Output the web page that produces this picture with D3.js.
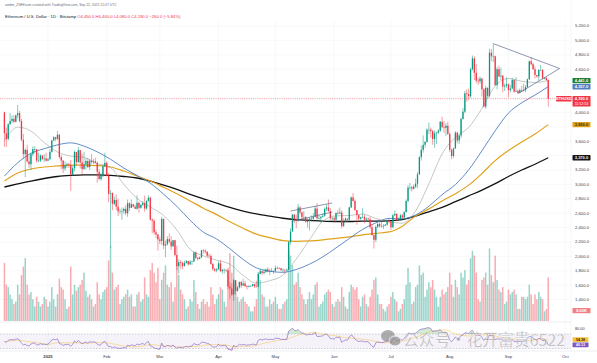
<!DOCTYPE html>
<html>
<head>
<meta charset="utf-8">
<script src="https://cdn.jsdelivr.net/npm/d3@7"></script>
<style>
  body { margin: 0; background: #fff; }
  svg { display: block; font-family: "Liberation Sans", Arial, sans-serif; }
</style>
</head>
<body>
<div id="chart"></div>
<script>
// ETH/USD 1D Bitstamp, one value per day from 9 Dec 2024 to 22 Sep 2025
const START = Date.UTC(2024, 11, 9);
const DAY = 864e5;
const firstOpen = 4000;

const closes = [
  3710,3630,3835,3880,3910,3870,3960,3990,3880,3620,3420,3480,3320,3280,3420,3490,3490,3330,3330,3400,3350,3360,3330,
  3350,3450,3610,3655,3630,3690,3380,3330,3220,3265,3280,3270,3135,3225,3450,3310,3475,3305,3215,3280,3325,3240,3330,3310,3320,3300,3175,3075,3115,3250,3300,
  3125,2870,2880,2730,2785,2690,2625,2630,2630,2660,2600,2740,2675,2725,2690,2660,2745,2675,2715,2740,2665,2770,2815,2510,2495,2335,2305,2235,
  2215,2520,2150,2170,2240,2205,2140,2225,2020,1865,1920,1910,1865,1910,1935,1890,1925,1930,2055,1980,1965,1985,2085,2080,2065,2010,2005,1895,1825,1805,1820,
  1905,1795,1815,1815,1805,1580,1555,1470,1670,1520,1570,1645,1595,1625,1585,1575,1585,1590,1615,1585,1580,1755,1795,1770,1785,1820,1790,1800,1800,1795,
  1840,1840,1835,1810,1815,1810,1815,2200,2345,2580,2515,2495,2680,2610,2545,2545,2480,2495,2525,2525,2550,2665,2530,2530,2550,2565,2660,2680,2630,2530,2530,
  2510,2605,2595,2610,2420,2480,2525,2510,2680,2820,2770,2645,2575,2525,2545,2550,2510,2525,2515,2405,2295,2230,2410,2450,2420,2415,2425,2440,2505,2485,
  2405,2570,2590,2510,2520,2570,2540,2615,2770,2955,2960,2940,2970,3010,3140,3380,3480,3550,3590,3760,3760,3740,3630,3710,3720,3745,3870,3795,3785,3815,3700,
  3480,3395,3500,3720,3610,3680,3910,4010,4265,4255,4225,4600,4750,4550,4440,4430,4470,4320,4080,4340,4230,4830,4780,4780,4380,4600,4500,4510,4360,4370,4390,
  4310,4330,4450,4290,4300,4270,4310,4300,4310,4350,4460,4710,4670,4600,4520,4500,4590,4590,4470,4480,4450,4190
];
const highs = [
  4010,3790,3850,3990,3960,3960,3970,4105,4020,3910,3700,3500,3550,3400,3440,3530,3530,3490,3440,3420,3410,3420,3440,
  3370,3490,3620,3670,3660,3740,3700,3410,3340,3320,3300,3300,3340,3260,3470,3450,3520,3480,3430,3450,3360,3370,3350,3420,3350,3370,3320,3210,3160,3280,3440,
  3320,3160,2920,2890,2830,2860,2800,2660,2680,2680,2710,2790,2750,2790,2730,2720,2850,2760,2730,2770,2845,2780,2850,2830,2530,2520,2370,2310,
  2270,2550,2530,2220,2280,2320,2280,2230,2230,2150,1960,1950,1930,1940,1950,1940,1950,1940,2070,2070,1990,2000,2090,2100,2100,2070,2040,2030,1910,1840,1840,
  1930,1950,1830,1830,1820,1810,1650,1620,1690,1670,1590,1650,1660,1690,1660,1600,1600,1600,1620,1610,1660,1780,1830,1800,1830,1830,1850,1830,1840,1800,
  1870,1860,1850,1840,1830,1820,1830,2210,2390,2590,2590,2580,2730,2700,2620,2630,2560,2530,2540,2570,2600,2700,2740,2580,2560,2600,2680,2720,2790,2670,2550,
  2550,2610,2650,2680,2640,2530,2540,2530,2690,2830,2880,2790,2620,2580,2550,2670,2580,2540,2540,2550,2450,2300,2430,2470,2490,2490,2450,2450,2510,2520,
  2490,2590,2640,2600,2540,2590,2590,2630,2790,2990,3020,2980,3000,3080,3170,3390,3540,3680,3600,3780,3860,3790,3760,3750,3730,3770,3880,3940,3880,3850,3870,
  3720,3500,3510,3740,3730,3690,3930,4060,4300,4320,4330,4620,4790,4780,4670,4480,4500,4480,4340,4370,4350,4885,4880,4955,4790,4630,4650,4620,4520,4400,4490,
  4400,4380,4480,4460,4490,4320,4330,4370,4400,4380,4470,4720,4770,4690,4640,4520,4600,4660,4600,4490,4490,4460
];
const lows = [
  3520,3520,3610,3830,3850,3850,3860,3920,3860,3600,3360,3100,3300,3230,3200,3390,3430,3300,3310,3310,3340,3310,3320,
  3320,3340,3440,3600,3600,3620,3360,3210,3160,3190,3230,3230,2910,3120,3180,3260,3300,3220,3140,3200,3210,3230,3200,3290,3280,3290,3020,3060,3050,3100,3260,
  3110,2750,2120,2640,2710,2640,2560,2590,2510,2590,2570,2550,2630,2670,2680,2660,2650,2610,2660,2700,2620,2650,2760,2500,2320,2300,2250,2080,
  2170,2160,2100,1990,2150,2180,2090,2130,2000,1810,1760,1830,1820,1860,1900,1870,1880,1880,1920,1960,1940,1960,1980,2040,2040,1990,1990,1880,1800,1780,1780,
  1820,1780,1760,1760,1780,1540,1410,1450,1385,1470,1510,1550,1560,1590,1580,1540,1570,1580,1580,1560,1570,1570,1760,1740,1750,1770,1780,1740,1790,1760,
  1790,1820,1820,1800,1780,1760,1790,1810,2160,2350,2460,2390,2480,2580,2500,2530,2470,2400,2360,2480,2480,2540,2510,2510,2470,2540,2550,2630,2620,2500,2490,
  2470,2480,2580,2590,2390,2410,2470,2480,2490,2670,2760,2630,2440,2490,2500,2530,2460,2480,2500,2380,2290,2110,2200,2390,2400,2400,2380,2420,2430,2460,
  2370,2390,2560,2490,2500,2500,2520,2520,2610,2750,2920,2900,2930,2950,2950,3130,3330,3440,3510,3580,3700,3650,3550,3510,3560,3700,3730,3780,3710,3670,3690,
  3450,3350,3370,3490,3570,3560,3640,3900,3990,4150,4170,4200,4580,4450,4410,4380,4400,4220,4070,4050,4200,4210,4710,4700,4370,4320,4490,4450,4280,4300,4340,
  4210,4280,4330,4270,4280,4260,4270,4290,4290,4280,4340,4450,4650,4590,4470,4480,4440,4580,4460,4460,4440,4080
];
// volume, thousand ETH
const volumes = [
  48,30,28,22,18,14,16,30,22,38,45,52,30,22,24,18,12,20,16,12,14,20,18,
  12,16,28,18,12,22,35,28,26,18,10,12,45,22,30,25,28,30,34,40,25,20,22,18,12,14,32,22,18,24,26,
  28,50,62,40,26,28,30,14,18,20,22,26,20,22,12,12,22,24,16,18,36,22,20,42,48,40,32,44,
  18,34,40,46,30,28,32,16,28,46,38,26,22,18,10,12,18,16,34,24,14,10,16,18,14,16,12,28,22,14,18,
  22,28,26,16,12,44,56,40,54,32,20,16,18,20,16,14,12,8,8,12,18,40,34,22,20,12,12,18,14,16,
  20,14,10,10,14,16,18,58,54,46,30,32,40,28,22,18,14,18,24,18,22,30,32,12,14,16,22,24,26,24,14,
  12,16,18,16,28,20,12,10,24,30,28,26,28,18,12,20,22,14,12,20,26,34,36,22,14,14,10,8,12,14,
  20,24,18,16,8,10,14,18,30,44,32,14,16,28,30,46,38,40,20,26,32,28,34,26,20,12,20,26,22,24,28,
  40,30,20,34,28,22,40,36,42,30,34,52,58,54,40,18,16,34,36,40,30,60,38,32,54,34,26,24,28,14,16,
  26,22,24,26,22,10,10,20,20,18,20,30,22,14,22,18,24,20,18,8,10,36
];

// moving averages, one reading per week starting 9 Dec 2024
const sma20 = [3605,3795,3741,3581,3450,3393,3376,3288,3233,3002,2806,2687,2569,2367,2099,2007,1947,1892,1736,1629,1663,1739,1963,2229,2487,2563,2568,2587,2527,2482,2461,2631,3009,3424,3656,3791,4056,4366,4471,4432,4416,4441];
const sma50 = [3116,3300,3431,3496,3549,3577,3532,3452,3349,3227,3123,3017,2864,2696,2502,2337,2242,2106,1957,1841,1793,1779,1818,1892,1993,2118,2248,2375,2466,2528,2522,2576,2697,2858,2998,3202,3467,3745,3991,4133,4241,4357];
const ma100 = [3047,3158,3214,3242,3256,3269,3269,3262,3242,3186,3117,3047,2960,2870,2770,2670,2580,2480,2390,2310,2260,2220,2210,2215,2230,2250,2270,2300,2320,2340,2420,2560,2660,2770,2870,2990,3150,3330,3470,3590,3700,3830];
const ma200 = [2964,3006,3047,3082,3110,3124,3131,3131,3124,3110,3089,3047,2990,2930,2860,2800,2740,2680,2630,2590,2560,2530,2510,2500,2490,2485,2485,2490,2490,2495,2510,2560,2620,2680,2760,2840,2920,3010,3110,3200,3280,3370];

const priceTicks = [1400,1600,1800,2000,2200,2400,2600,2800,3000,3200,3400,3600,3800,4000,4200,4400,4600,4800,5000,5200];
const monthTicks = ["2025-01-01","2025-02-01","2025-03-01","2025-04-01","2025-05-01","2025-06-01","2025-07-01","2025-08-01","2025-09-01","2025-10-01"];
const monthLabels = ["2025","Feb","Mar","Apr","May","Jun","Jul","Aug","Sep","Oct"];

// hand drawn trend lines: [date, price]
const trendLines = [
  [["2025-08-24", 4955], ["2025-09-28", 4610]],
  [["2025-09-06", 4260], ["2025-09-28", 4610]],
  [["2025-05-09", 2630], ["2025-05-31", 2742]],
  [["2025-05-10", 2491], ["2025-05-31", 2616]]
];
const volumeTag = 8.6;

const W = 597, H = 363, AXIS_X = 571;

const svg = d3.select("#chart").append("svg")
  .attr("width", W).attr("height", H);

const x = d3.scaleUtc()
  .domain([new Date("2025-01-01"), new Date("2025-10-01")])
  .range([48, 565.3]);
const y = d3.scaleLinear().domain([1400, 5200]).range([299.6, 26]);
const yVol = d3.scaleLinear().domain([0, 62]).range([321, 246]);
const yRsi = d3.scaleLinear().domain([30, 70]).range([348.5, 334]);

const bars = closes.map((c, i) => {
  const o = i ? closes[i - 1] : firstOpen;
  return {
    date: new Date(START + i * DAY), o, c,
    h: Math.max(highs[i], o, c), l: Math.min(lows[i], o, c), v: volumes[i]
  };
});
const weekDate = i => new Date(START + i * 7 * DAY);

const defs = svg.append("defs");
defs.append("clipPath").attr("id", "clipMain")
  .append("rect").attr("x", 0).attr("y", 20).attr("width", AXIS_X).attr("height", 301);
defs.append("clipPath").attr("id", "clipRsi")
  .append("rect").attr("x", 0).attr("y", 323).attr("width", AXIS_X).attr("height", 28);

// grid
const grid = svg.append("g");
grid.selectAll(".gh").data(priceTicks).enter().append("line")
  .attr("x1", 0).attr("x2", AXIS_X)
  .attr("y1", d => y(d)).attr("y2", d => y(d))
  .attr("stroke", "#f1f3f6").attr("stroke-width", 0.6);
grid.selectAll(".gv").data(monthTicks).enter().append("line")
  .attr("x1", d => x(new Date(d))).attr("x2", d => x(new Date(d)))
  .attr("y1", 20).attr("y2", 351)
  .attr("stroke", "#f1f3f6").attr("stroke-width", 0.6);

// RSI pane background
const rsiPane = svg.append("g");
rsiPane.append("rect").attr("x", 0).attr("width", AXIS_X)
  .attr("y", yRsi(70)).attr("height", yRsi(30) - yRsi(70))
  .attr("fill", "rgba(126,87,194,0.08)");
[70, 30].forEach(v => rsiPane.append("line")
  .attr("x1", 0).attr("x2", AXIS_X).attr("y1", yRsi(v)).attr("y2", yRsi(v))
  .attr("stroke", "#a0a0a8").attr("stroke-width", 0.5).attr("stroke-dasharray", "1.5,1.5"));

svg.append("line").attr("x1", 0).attr("x2", AXIS_X).attr("y1", 322).attr("y2", 322)
  .attr("stroke", "#e0e3eb").attr("stroke-width", 0.6);
svg.append("line").attr("x1", 0).attr("x2", W).attr("y1", 351).attr("y2", 351)
  .attr("stroke", "#e0e3eb").attr("stroke-width", 0.6);
svg.append("line").attr("x1", AXIS_X).attr("x2", AXIS_X).attr("y1", 0).attr("y2", 351)
  .attr("stroke", "#eef0f3").attr("stroke-width", 0.6);

const main = svg.append("g").attr("clip-path", "url(#clipMain)");

// volume
main.selectAll(".vol").data(bars).enter().append("rect")
  .attr("x", d => x(d.date) - 0.75).attr("width", 1.5)
  .attr("y", d => yVol(d.v)).attr("height", d => yVol(0) - yVol(d.v))
  .attr("fill", d => d.c >= d.o ? "rgba(8,153,129,0.42)" : "rgba(242,54,69,0.42)");

// moving averages
const maLine = d3.line().x((d, i) => x(weekDate(i))).y(d => y(d)).curve(d3.curveMonotoneX);
[
  [ma200, "#131313", 1.3],
  [ma100, "#e0a21b", 1.2],
  [sma50, "#4f7fc0", 0.9],
  [sma20, "#9aa59c", 0.6]
].forEach(([data, color, w]) => main.append("path").datum(data)
  .attr("d", maLine).attr("fill", "none").attr("stroke", color).attr("stroke-width", w));

// price line
const last = bars[bars.length - 1];
main.append("line").attr("x1", 0).attr("x2", AXIS_X)
  .attr("y1", y(last.c)).attr("y2", y(last.c))
  .attr("stroke", "#f23645").attr("stroke-width", 0.5).attr("stroke-dasharray", "1,1.2");

// candles
const up = "#089981", down = "#f23645";
const candles = main.selectAll(".candle").data(bars).enter().append("g");
candles.append("line")
  .attr("x1", d => x(d.date)).attr("x2", d => x(d.date))
  .attr("y1", d => y(d.h)).attr("y2", d => y(d.l))
  .attr("stroke", d => d.c >= d.o ? up : down).attr("stroke-width", 0.5);
candles.append("rect")
  .attr("x", d => x(d.date) - 0.65).attr("width", 1.3)
  .attr("y", d => y(Math.max(d.o, d.c)))
  .attr("height", d => Math.max(0.5, Math.abs(y(d.o) - y(d.c))))
  .attr("fill", d => d.c >= d.o ? up : down);

// trend lines
main.selectAll(".trend").data(trendLines).enter().append("line")
  .attr("x1", d => x(new Date(d[0][0]))).attr("y1", d => y(d[0][1]))
  .attr("x2", d => x(new Date(d[1][0]))).attr("y2", d => y(d[1][1]))
  .attr("stroke", "#5a6a8e").attr("stroke-width", 0.7);

// RSI (14) and its 14 period average
const rsi = [];
let avgUp = 75, avgDown = 55;
closes.forEach((c, i) => {
  const ch = c - (i ? closes[i - 1] : firstOpen);
  avgUp = (avgUp * 13 + Math.max(ch, 0)) / 14;
  avgDown = (avgDown * 13 + Math.max(-ch, 0)) / 14;
  rsi.push(100 - 100 / (1 + avgUp / avgDown));
});
const rsiMa = rsi.map((v, i) => d3.mean(rsi.slice(Math.max(0, i - 13), i + 1)));

const rsiG = svg.append("g").attr("clip-path", "url(#clipRsi)");
const rx = (d, i) => x(bars[i].date);
rsiG.append("path").datum(rsi)
  .attr("d", d3.area().x(rx).y0(yRsi(70)).y1(v => yRsi(Math.max(v, 70))))
  .attr("fill", "rgba(76,175,80,0.25)");
rsiG.append("path").datum(rsi)
  .attr("d", d3.area().x(rx).y0(yRsi(30)).y1(v => yRsi(Math.min(v, 30))))
  .attr("fill", "rgba(242,54,69,0.2)");
rsiG.append("path").datum(rsiMa)
  .attr("d", d3.line().x(rx).y(v => yRsi(v)))
  .attr("fill", "none").attr("stroke", "#f5c342").attr("stroke-width", 0.5);
rsiG.append("path").datum(rsi)
  .attr("d", d3.line().x(rx).y(v => yRsi(v)))
  .attr("fill", "none").attr("stroke", "#7e57c2").attr("stroke-width", 0.6);

// watermark
const wm = svg.append("g").attr("opacity", 0.7);
wm.append("ellipse").attr("cx", 388).attr("cy", 336).attr("rx", 7).attr("ry", 6).attr("fill", "#8c8c8c");
wm.append("ellipse").attr("cx", 395).attr("cy", 341).attr("rx", 6).attr("ry", 5).attr("fill", "#8c8c8c")
  .attr("stroke", "#fff").attr("stroke-width", 0.8);
wm.append("text").attr("x", 403).attr("y", 346)
  .attr("font-family", "'Noto Sans CJK SC', sans-serif").attr("font-size", 16.5)
  .attr("fill", "#8c8c8c").attr("stroke", "#fff").attr("stroke-width", 0.4)
  .attr("textLength", 162).attr("lengthAdjust", "spacingAndGlyphs")
  .text("公众号·花开富贵6522");

// price axis
const fmt = d3.format(",.1f");
const tagYs = [y(sma20[41]), y(sma50[41]), y(last.c), y(ma100[41]), y(ma200[41])];
svg.selectAll(".pt").data(priceTicks.filter(p => tagYs.every(t => Math.abs(y(p) - t) > 5))).enter()
  .append("text").attr("x", 575).attr("y", d => y(d)).attr("dy", "0.35em")
  .attr("font-size", 4.2).attr("fill", "#3a3e4a").text(d => fmt(d));

function tag(yv, text, fill, color, h) {
  h = h || 5.4;
  svg.append("rect").attr("x", 572.5).attr("y", yv - h / 2).attr("width", 18).attr("height", h)
    .attr("rx", 0.6).attr("fill", fill);
  svg.append("text").attr("x", 581.5).attr("y", yv).attr("dy", "0.35em").attr("text-anchor", "middle")
    .attr("font-size", 4).attr("font-weight", "bold").attr("fill", color).text(text);
}
tag(y(sma20[41]), fmt(sma20[41]), "#1e7e34", "#fff");
tag(y(sma50[41]), fmt(sma50[41]), "#4f7fc0", "#fff");
tag(y(ma100[41]), fmt(ma100[41]), "#e0a21b", "#3a2a00");
tag(y(ma200[41]), fmt(ma200[41]), "#131313", "#fff");

// last price tag with countdown
const yc = y(last.c);
svg.append("rect").attr("x", 572.5).attr("y", yc - 2.8).attr("width", 18).attr("height", 10.6)
  .attr("rx", 0.6).attr("fill", "#f23645");
svg.append("text").attr("x", 581.5).attr("y", yc).attr("dy", "0.35em").attr("text-anchor", "middle")
  .attr("font-size", 4).attr("font-weight", "bold").attr("fill", "#fff").text(fmt(last.c));
svg.append("text").attr("x", 581.5).attr("y", yc + 5).attr("dy", "0.35em").attr("text-anchor", "middle")
  .attr("font-size", 3.6).attr("fill", "#fff").text("11:52:53");
svg.append("rect").attr("x", 556).attr("y", yc - 2.7).attr("width", 15.5).attr("height", 5.4)
  .attr("rx", 0.6).attr("fill", "#f23645");
svg.append("text").attr("x", 563.7).attr("y", yc).attr("dy", "0.35em").attr("text-anchor", "middle")
  .attr("font-size", 3.8).attr("font-weight", "bold").attr("fill", "#fff").text("ETHUSD");

// volume tag
tag(yVol(volumeTag), d3.format(".2f")(volumeTag) + "K", "#f07f86", "#fff");

// RSI axis
svg.append("text").attr("x", 575).attr("y", 328.5).attr("dy", "0.35em")
  .attr("font-size", 3.8).attr("fill", "#3a3e4a").text("80.00");
const rLast = rsi[rsi.length - 1], rmLast = rsiMa[rsiMa.length - 1];
const yMaTag = Math.min(Math.max(yRsi(rmLast), 334.5), 341);
const yRsiTag = Math.max(yRsi(rLast), yMaTag + 5);
[[rmLast, yMaTag, "#f5c342", "#3a2a00"], [rLast, yRsiTag, "#7e57c2", "#fff"]].forEach(([v, yy, f, c]) => {
  svg.append("rect").attr("x", 572.5).attr("y", yy - 2.3).attr("width", 16).attr("height", 4.6)
    .attr("rx", 0.6).attr("fill", f);
  svg.append("text").attr("x", 580.5).attr("y", yy).attr("dy", "0.35em").attr("text-anchor", "middle")
    .attr("font-size", 3.6).attr("font-weight", "bold").attr("fill", c).text(d3.format(".2f")(v));
});

// time axis
svg.selectAll(".mt").data(monthTicks).enter().append("text")
  .attr("x", d => x(new Date(d))).attr("y", 356.5).attr("dy", "0.35em")
  .attr("text-anchor", "middle").attr("font-size", 4.2).attr("fill", "#3a3e4a")
  .attr("font-weight", (d, i) => i === 0 ? "bold" : "normal")
  .text((d, i) => monthLabels[i]);

// header
svg.append("text").attr("x", 5).attr("y", 6).attr("font-size", 3.4).attr("fill", "#6a6d78")
  .text("ambm_ZWH/sum created with TradingView.com, Sep 22, 2025 12:07 UTC");
const prev = bars[bars.length - 2].c, chg = last.c - prev;
const head = svg.append("text").attr("x", 5).attr("y", 17.5).attr("font-size", 4.2).attr("fill", "#131722");
head.append("tspan").text("Ethereum / U.S. Dollar · 1D · Bitstamp  ");
head.append("tspan").attr("fill", "#f23645")
  .text(`O${fmt(last.o)}  H${fmt(last.h)}  L${fmt(last.l)}  C${fmt(last.c)}  ${fmt(chg)} (${d3.format(".2f")(chg / prev * 100)}%)`);
</script>
</body>
</html>
